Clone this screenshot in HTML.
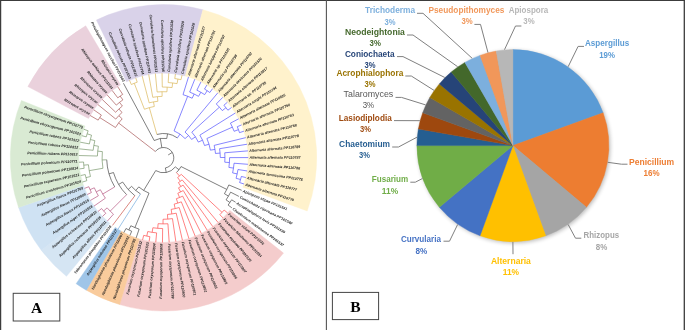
<!DOCTYPE html>
<html><head><meta charset="utf-8"><title>Figure</title>
<style>
html,body{margin:0;padding:0;background:#fff;}
body{width:685px;height:330px;overflow:hidden;font-family:"Liberation Sans",sans-serif;}
svg{display:block;}
</style></head><body>
<svg width="685" height="330" viewBox="0 0 685 330">
<rect width="685" height="330" fill="#fff"/>
<g id="sectors">
<path d="M27.86 86.59A153.2 153.2 0 0 1 85.73 25.81L120.5 84.82A84.7 84.7 0 0 0 88.51 118.43Z" fill="#ead1dc" stroke="#ead1dc" stroke-width="0.45"/>
<path d="M96.43 20.06A153.2 153.2 0 0 1 202.93 9.76L185.3 75.95A84.7 84.7 0 0 0 126.42 81.65Z" fill="#d9d2e9" stroke="#d9d2e9" stroke-width="0.45"/>
<path d="M202.93 9.76A153.2 153.2 0 0 1 307.19 210.94L242.94 187.18A84.7 84.7 0 0 0 185.3 75.95Z" fill="#fff2cc" stroke="#fff2cc" stroke-width="0.45"/>
<path d="M283.46 253.09A153.2 153.2 0 0 1 119.75 304.62L139.31 238.97A84.7 84.7 0 0 0 229.82 210.49Z" fill="#f4cccc" stroke="#f4cccc" stroke-width="0.45"/>
<path d="M119.75 304.62A153.2 153.2 0 0 1 86.39 290.18L120.87 230.99A84.7 84.7 0 0 0 139.31 238.97Z" fill="#f9cb9c" stroke="#f9cb9c" stroke-width="0.45"/>
<path d="M86.39 290.18A153.2 153.2 0 0 1 76.15 283.66L115.21 227.38A84.7 84.7 0 0 0 120.87 230.99Z" fill="#9fc5e8" stroke="#9fc5e8" stroke-width="0.45"/>
<path d="M66.46 276.35A153.2 153.2 0 0 1 41.26 250.15L95.92 208.86A84.7 84.7 0 0 0 109.85 223.34Z" fill="#d5e5f3" stroke="#d5e5f3" stroke-width="0.45"/>
<path d="M41.26 250.15A153.2 153.2 0 0 1 18.56 207.43L83.37 185.24A84.7 84.7 0 0 0 95.92 208.86Z" fill="#cfe2f3" stroke="#cfe2f3" stroke-width="0.45"/>
<path d="M18.56 207.43A153.2 153.2 0 0 1 21.43 100.47L84.95 126.1A84.7 84.7 0 0 0 83.37 185.24Z" fill="#d9ead3" stroke="#d9ead3" stroke-width="0.45"/>
</g>
<g id="branches" fill="none" stroke-width="0.65">
<path stroke="#3a3a3a" d="M155.36 151.49A10.3 10.3 0 1 1 165.38 167.93M160.32 138.46L161.83 147.64M154.23 140.53A19.6 19.6 0 0 1 166.75 138.47M123.43 83.18L154.23 140.53M167.53 133.89L166.75 138.47M156.91 134.46A24.25 24.25 0 0 1 177.37 137.91M166.24 172.5L165.38 167.93M175.34 166.92A14.95 14.95 0 0 1 155.73 170.57M179.03 169.76L175.34 166.92M181.03 166.56A19.6 19.6 0 0 1 176.44 172.52M226.79 189.41L181.03 166.56M228.83 184.95A70.75 70.75 0 0 1 224.45 193.72M241.71 190.3L228.83 184.95M228.46 196.09L224.45 193.72M230.62 192.16A75.4 75.4 0 0 1 226.07 199.88M238.89 196.4L230.62 192.16M229.93 202.47L226.07 199.88M231.64 199.81A80.05 80.05 0 0 1 228.1 205.07M235.6 202.25L231.64 199.81M231.86 207.82L228.1 205.07M143.66 190.44L155.73 170.57M149.02 193.15A38.2 38.2 0 0 1 138.78 186.92M134.92 227.58L149.02 193.15M139.12 229.15A75.4 75.4 0 0 1 130.83 225.75M136.11 237.95L139.12 229.15M128.81 229.94L130.83 225.75M131.7 231.26A80.05 80.05 0 0 1 125.98 228.51M129.85 235.53L131.7 231.26M123.8 232.62L125.98 228.51M135.77 190.47L138.78 186.92M140.48 193.94A42.85 42.85 0 0 1 131.58 186.38M128.11 189.49L131.58 186.38M134.89 195.72A47.5 47.5 0 0 1 122.66 182.06M118.67 184.44L122.66 182.06M126.64 194.69A52.15 52.15 0 0 1 113.48 172.54M109.02 173.85L113.48 172.54M114.72 186.91A56.8 56.8 0 0 1 106.73 159.79M172.29 152.44L168.2 154.94"/>
<path stroke="#a04a4a" d="M118.61 123L155.36 151.49M115.46 127.5A56.8 56.8 0 0 1 122.17 118.84M99.73 117.57L115.46 127.5M98.18 120.13A75.4 75.4 0 0 1 101.37 115.08M90.13 115.49L98.18 120.13M93.71 109.81L101.37 115.08M118.79 115.65L122.17 118.84M115.78 119.08A61.45 61.45 0 0 1 122.04 112.44M97.73 104.43L115.78 119.08M118.9 109.01L122.04 112.44M115.63 112.22A66.1 66.1 0 0 1 122.39 106.04M102.16 99.39L115.63 112.22M119.5 102.4L122.39 106.04M116.29 105.11A70.75 70.75 0 0 1 122.87 99.88M106.98 94.72L116.29 105.11M120.2 96.07L122.87 99.88M117.79 97.84A75.4 75.4 0 0 1 122.68 94.4M112.15 90.44L117.79 97.84M117.65 86.59L122.68 94.4"/>
<path stroke="#d8b24e" d="M149.32 107.62L156.91 134.46M144.45 109.25A52.15 52.15 0 0 1 154.32 106.46M134.26 83.28L144.45 109.25M131.33 84.5A80.05 80.05 0 0 1 137.24 82.18M129.46 80.24L131.33 84.5M135.71 77.79L137.24 82.18M153.5 101.89L154.32 106.46M149.17 102.84A56.8 56.8 0 0 1 157.89 101.28M142.14 75.84L149.17 102.84M157.43 96.65L157.89 101.28M152.76 97.3A61.45 61.45 0 0 1 162.14 96.37M148.69 74.4L152.76 97.3M162.04 91.72L162.14 96.37M157.14 92.01A66.1 66.1 0 0 1 166.95 91.79M155.35 73.49L157.14 92.01M167.19 87.15L166.95 91.79M162.29 87.06A70.75 70.75 0 0 1 172.08 87.57M162.05 73.11L162.29 87.06M172.64 82.96L172.08 87.57M168.18 82.55A75.4 75.4 0 0 1 177.07 83.63M168.76 73.26L168.18 82.55M177.91 79.06L177.07 83.63M174.78 78.55A80.05 80.05 0 0 1 181.02 79.69M175.44 73.95L174.78 78.55M182.04 75.15L181.02 79.69"/>
<path stroke="#4646ff" d="M180.03 134.09L177.37 137.91M174.07 130.9A28.9 28.9 0 0 1 185.09 138.59M187.66 96.28L174.07 130.9M183.03 94.65A66.1 66.1 0 0 1 192.17 98.24M188.53 76.88L183.03 94.65M194.18 94.05L192.17 98.24M189.69 92.08A70.75 70.75 0 0 1 198.53 96.33M194.85 79.12L189.69 92.08M200.83 92.29L198.53 96.33M196.87 90.19A75.4 75.4 0 0 1 204.66 94.62M200.99 81.85L196.87 90.19M207.19 90.73L204.66 94.62M204.5 89.05A80.05 80.05 0 0 1 209.82 92.51M206.88 85.05L204.5 89.05M212.51 88.72L209.82 92.51M188.56 135.5L185.09 138.59M185.02 132.06A33.55 33.55 0 0 1 191.57 139.42M217.83 92.82L185.02 132.06M195.46 136.87L191.57 139.42M191.82 132.16A38.2 38.2 0 0 1 198.32 142.09M219.4 107.19L191.82 132.16M216.29 103.96A75.4 75.4 0 0 1 222.3 110.61M222.8 97.32L216.29 103.96M225.93 107.69L222.3 110.61M223.9 105.26A80.05 80.05 0 0 1 227.87 110.21M227.4 102.21L223.9 105.26M231.61 107.44L227.87 110.21M202.56 140.18L198.32 142.09M199.86 135.13A42.85 42.85 0 0 1 204.56 145.54M235.38 112.99L199.86 135.13M209.01 144.21L204.56 145.54M206.9 138.49A47.5 47.5 0 0 1 210.38 150.15M232.39 127.15L206.9 138.49M230.44 123.11A75.4 75.4 0 0 1 234.09 131.29M238.7 118.83L230.44 123.11M238.44 129.66L234.09 131.29M237.27 126.71A80.05 80.05 0 0 1 239.5 132.65M241.55 124.91L237.27 126.71M243.91 131.19L239.5 132.65M214.97 149.41L210.38 150.15M214.15 145.39A52.15 52.15 0 0 1 215.47 153.48M245.77 137.64L214.15 145.39M220.1 153.09L215.47 153.48M219.57 148.69A56.8 56.8 0 0 1 220.3 157.52M247.1 144.22L219.57 148.69M224.95 157.49L220.3 157.52M224.74 152.78A61.45 61.45 0 0 1 224.79 162.21M247.92 150.88L224.74 152.78M229.43 162.54L224.79 162.21M229.6 157.64A66.1 66.1 0 0 1 228.9 167.43M248.2 157.59L229.6 157.64M233.5 168.1L228.9 167.43M234.04 163.23A70.75 70.75 0 0 1 232.61 172.93M247.95 164.3L234.04 163.23M237.16 173.92L232.61 172.93M237.98 169.52A75.4 75.4 0 0 1 236.07 178.27M247.17 170.96L237.98 169.52M240.54 179.53L236.07 178.27M241.34 176.46A80.05 80.05 0 0 1 239.62 182.57M245.87 177.55L241.34 176.46M244.04 184.01L239.62 182.57"/>
<path stroke="#ff4040" d="M179.51 176.01L176.44 172.52M181.23 174.34A24.25 24.25 0 0 1 177.63 177.51M222.04 212.4L181.23 174.34M224.16 210.04A80.05 80.05 0 0 1 219.83 214.68M227.68 213.07L224.16 210.04M223.1 217.98L219.83 214.68M180.34 181.29L177.63 177.51M182.15 179.88A28.9 28.9 0 0 1 178.43 182.55M218.15 222.51L182.15 179.88M180.83 186.53L178.43 182.55M183.05 185.07A33.55 33.55 0 0 1 178.5 187.81M212.85 226.64L183.05 185.07M180.58 191.97L178.5 187.81M183.23 190.51A38.2 38.2 0 0 1 177.82 193.21M207.25 230.33L183.23 190.51M179.57 197.52L177.82 193.21M182.66 196.13A42.85 42.85 0 0 1 176.38 198.67M201.37 233.56L182.66 196.13M177.77 203.1L176.38 198.67M181.3 201.84A47.5 47.5 0 0 1 174.16 204.09M195.25 236.33L181.3 201.84M175.2 208.62L174.16 204.09M179.16 207.54A52.15 52.15 0 0 1 171.17 209.38M188.93 238.59L179.16 207.54M171.85 213.98L171.17 209.38M176.21 213.16A56.8 56.8 0 0 1 167.45 214.46M182.45 240.35L176.21 213.16M167.77 219.1L167.45 214.46M172.46 218.59A61.45 61.45 0 0 1 163.06 219.25M175.85 241.59L172.46 218.59M163.02 223.9L163.06 219.25M167.93 223.75A66.1 66.1 0 0 1 158.12 223.68M169.18 242.31L167.93 223.75M157.74 228.31L158.12 223.68M162.64 228.54A70.75 70.75 0 0 1 152.86 227.75M162.47 242.49L162.64 228.54M152.17 232.34L152.86 227.75M156.62 232.89A75.4 75.4 0 0 1 147.76 231.54M155.77 242.15L156.62 232.89M146.79 236.09L147.76 231.54M149.9 236.69A80.05 80.05 0 0 1 143.7 235.36M149.11 241.27L149.9 236.69M142.55 239.87L143.7 235.36"/>
<path stroke="#6aa5dc" d="M118 229.24L140.48 193.94"/>
<path stroke="#c8473c" d="M112.49 225.42L134.89 195.72"/>
<path stroke="#b04a78" d="M110.2 211.13L126.64 194.69M113.46 214.21A75.4 75.4 0 0 1 107.13 207.87M107.29 221.16L113.46 214.21M103.65 210.96L107.13 207.87M105.8 213.29A80.05 80.05 0 0 1 101.59 208.55M102.45 216.51L105.8 213.29M97.99 211.49L101.59 208.55M102.74 194.05L114.72 186.91M105.4 198.18A70.75 70.75 0 0 1 100.38 189.76M93.95 206.14L105.4 198.18M96.23 191.86L100.38 189.76M98.37 195.79A75.4 75.4 0 0 1 94.32 187.8M90.34 200.48L98.37 195.79M90.06 189.65L94.32 187.8M91.38 192.53A80.05 80.05 0 0 1 88.85 186.71M87.19 194.55L91.38 192.53M84.52 188.39L88.85 186.71"/>
<path stroke="#6f8f62" d="M102.09 159.96L106.73 159.79M102.95 168.28A61.45 61.45 0 0 1 102.36 151.6M89.2 170.66L102.95 168.28M90.46 176.5A75.4 75.4 0 0 1 88.42 164.73M85.95 177.65L90.46 176.5M86.8 180.71A80.05 80.05 0 0 1 85.23 174.56M82.34 182.04L86.8 180.71M80.68 175.54L85.23 174.56M83.79 165.16L88.42 164.73M84.14 168.31A80.05 80.05 0 0 1 83.56 162M79.53 168.92L84.14 168.31M78.92 162.24L83.56 162M97.74 151.13L102.36 151.6M97.42 156.03A66.1 66.1 0 0 1 98.41 146.26M78.83 155.53L97.42 156.03M93.84 145.45L98.41 146.26M93.15 150.31A70.75 70.75 0 0 1 94.86 140.65M79.28 148.83L93.15 150.31M90.35 139.52L94.86 140.65M89.39 143.9A75.4 75.4 0 0 1 91.56 135.21M80.25 142.19L89.39 143.9M87.13 133.82L91.56 135.21M86.24 136.86A80.05 80.05 0 0 1 88.14 130.81M81.75 135.65L86.24 136.86M83.76 129.24L88.14 130.81"/>
</g>
<g id="tlabels" font-family="'Liberation Sans', sans-serif" font-size="36.6" font-weight="bold" font-style="italic" fill="#1c1c1c" opacity="0.99">
<text transform="translate(89 114.84) rotate(29.97) scale(.1)" text-anchor="end" dy="1">Rhizopus oryzae</text>
<text transform="translate(92.64 109.07) rotate(34.51) scale(.1)" text-anchor="end" dy="1">Rhizopus oryzae</text>
<text transform="translate(96.72 103.61) rotate(39.06) scale(.1)" text-anchor="end" dy="1">Rhizopus oryzae</text>
<text transform="translate(101.22 98.5) rotate(43.6) scale(.1)" text-anchor="end" dy="1">Rhizopus oryzae</text>
<text transform="translate(106.11 93.75) rotate(48.14) scale(.1)" text-anchor="end" dy="1">Rhizopus oryzae</text>
<text transform="translate(111.36 89.41) rotate(52.68) scale(.1)" text-anchor="end" dy="1">Rhizopus arrhizus PP101534</text>
<text transform="translate(116.94 85.49) rotate(57.22) scale(.1)" text-anchor="end" dy="1">Rhizopus oryzae</text>
<text transform="translate(122.81 82.03) rotate(61.76) scale(.1)" text-anchor="end" dy="1">Pseudopithomyces sacchari PP101543</text>
<text transform="translate(128.94 79.05) rotate(66.31) scale(.1)" text-anchor="end" dy="1">Curvularia robusta PP101533</text>
<text transform="translate(135.29 76.56) rotate(70.85) scale(.1)" text-anchor="end" dy="1">Curvularia robusta PP110816</text>
<text transform="translate(141.81 74.58) rotate(75.39) scale(.1)" text-anchor="end" dy="1">Curvularia spicifera PP110794</text>
<text transform="translate(148.47 73.12) rotate(79.93) scale(.1)" text-anchor="end" dy="1">Curvularia spicifera PP110793</text>
<text transform="translate(155.22 72.2) rotate(84.47) scale(.1)" text-anchor="end" dy="1">Curvularia hawaiiensis PP101531</text>
<text transform="translate(162.02 71.81) rotate(89.02) scale(.1)" text-anchor="end" dy="1">Curvularia spicifera PP110795</text>
<text transform="translate(168.84 71.97) rotate(-86.44) scale(.1)" text-anchor="start" dy="12.5">Curvularia spicifera PP101530</text>
<text transform="translate(175.62 72.66) rotate(-81.9) scale(.1)" text-anchor="start" dy="12.5">Curvularia spicifera PP101529</text>
<text transform="translate(182.32 73.89) rotate(-77.36) scale(.1)" text-anchor="start" dy="12.5">Curvularia spicifera PP101528</text>
<text transform="translate(188.91 75.64) rotate(-72.81) scale(.1)" text-anchor="start" dy="12.5">Alternaria alternata PP101527</text>
<text transform="translate(195.34 77.91) rotate(-68.27) scale(.1)" text-anchor="start" dy="12.5">Alternaria alternata PP110791</text>
<text transform="translate(201.56 80.68) rotate(-63.73) scale(.1)" text-anchor="start" dy="12.5">Alternaria longipes PP110797</text>
<text transform="translate(207.55 83.94) rotate(-59.19) scale(.1)" text-anchor="start" dy="12.5">Alternaria sp. PP101525</text>
<text transform="translate(213.26 87.66) rotate(-54.65) scale(.1)" text-anchor="start" dy="12.5">Alternaria sp PP110798</text>
<text transform="translate(218.66 91.82) rotate(-50.11) scale(.1)" text-anchor="start" dy="12.5">Alternaria alternata PP110792</text>
<text transform="translate(223.71 96.39) rotate(-45.56) scale(.1)" text-anchor="start" dy="12.5">Alternaria destruens PP101526</text>
<text transform="translate(228.38 101.36) rotate(-41.02) scale(.1)" text-anchor="start" dy="12.5">Alternaria alternata PP110817</text>
<text transform="translate(232.65 106.67) rotate(-36.48) scale(.1)" text-anchor="start" dy="12.5">Alternaria sp. PP110785</text>
<text transform="translate(236.48 112.31) rotate(-31.94) scale(.1)" text-anchor="start" dy="12.5">Alternaria sorghi PP110794</text>
<text transform="translate(239.86 118.23) rotate(-27.39) scale(.1)" text-anchor="start" dy="12.5">Alternaria alternata PP110816</text>
<text transform="translate(242.75 124.4) rotate(-22.85) scale(.1)" text-anchor="start" dy="12.5">Alternaria alternata PP110790</text>
<text transform="translate(245.15 130.78) rotate(-18.31) scale(.1)" text-anchor="start" dy="12.5">Alternaria alternata PP110783</text>
<text transform="translate(247.03 137.33) rotate(-13.77) scale(.1)" text-anchor="start" dy="12.5">Alternaria alternata PP110788</text>
<text transform="translate(248.39 144.01) rotate(-9.23) scale(.1)" text-anchor="start" dy="12.5">Alternaria alternata PP110778</text>
<text transform="translate(249.21 150.78) rotate(-4.69) scale(.1)" text-anchor="start" dy="12.5">Alternaria alternata PP110789</text>
<text transform="translate(249.5 157.59) rotate(-0.14) scale(.1)" text-anchor="start" dy="12.5">Alternaria alternata PP110787</text>
<text transform="translate(249.25 164.4) rotate(4.4) scale(.1)" text-anchor="start" dy="12.5">Alternaria alternata PP110786</text>
<text transform="translate(248.46 171.17) rotate(8.94) scale(.1)" text-anchor="start" dy="12.5">Alternaria tenuissima PP110775</text>
<text transform="translate(247.13 177.85) rotate(13.48) scale(.1)" text-anchor="start" dy="12.5">Alternaria alternata PP110777</text>
<text transform="translate(245.28 184.41) rotate(18.02) scale(.1)" text-anchor="start" dy="12.5">Alternaria alternata PP110779</text>
<text transform="translate(242.92 190.8) rotate(22.57) scale(.1)" text-anchor="start" dy="12.5">Apiospora stipae PP101541</text>
<text transform="translate(240.05 196.99) rotate(27.11) scale(.1)" text-anchor="start" dy="12.5">Coniochaeta cipronana PP101540</text>
<text transform="translate(236.71 202.93) rotate(31.65) scale(.1)" text-anchor="start" dy="12.5">Acrophialophora levis PP101539</text>
<text transform="translate(232.9 208.58) rotate(36.19) scale(.1)" text-anchor="start" dy="12.5">Chaetomium madrasense PP101537</text>
<text transform="translate(228.67 213.92) rotate(40.74) scale(.1)" text-anchor="start" dy="12.5">Fusarium solani PP101536</text>
<text transform="translate(224.02 218.9) rotate(45.28) scale(.1)" text-anchor="start" dy="12.5">Fusarium falciforme PP101534</text>
<text transform="translate(218.99 223.5) rotate(49.82) scale(.1)" text-anchor="start" dy="12.5">Fusarium equiseti PP101535</text>
<text transform="translate(213.61 227.69) rotate(54.36) scale(.1)" text-anchor="start" dy="12.5">Fusarium oxysporum PP110807</text>
<text transform="translate(207.92 231.44) rotate(58.9) scale(.1)" text-anchor="start" dy="12.5">Fusarium oxysporum PP110806</text>
<text transform="translate(201.95 234.73) rotate(63.44) scale(.1)" text-anchor="start" dy="12.5">Fusarium oxysporum PP110805</text>
<text transform="translate(195.73 237.53) rotate(67.99) scale(.1)" text-anchor="start" dy="12.5">Fusarium oxysporum PP110803</text>
<text transform="translate(189.32 239.83) rotate(72.53) scale(.1)" text-anchor="start" dy="12.5">Fusarium oxysporum PP110802</text>
<text transform="translate(182.74 241.62) rotate(77.07) scale(.1)" text-anchor="start" dy="12.5">Fusarium oxysporum PP110801</text>
<text transform="translate(176.04 242.88) rotate(81.61) scale(.1)" text-anchor="start" dy="12.5">Fusarium oxysporum PP110800</text>
<text transform="translate(169.27 243.61) rotate(86.15) scale(.1)" text-anchor="start" dy="12.5">Fusarium oxysporum PP110799</text>
<text transform="translate(162.45 243.79) rotate(-89.3) scale(.1)" text-anchor="end" dy="1">Fusarium oxysporum PP110808</text>
<text transform="translate(155.65 243.44) rotate(-84.76) scale(.1)" text-anchor="end" dy="1">Fusarium oxysporum PP110804</text>
<text transform="translate(148.89 242.55) rotate(-80.22) scale(.1)" text-anchor="end" dy="1">Fusarium oxysporum PP101533</text>
<text transform="translate(142.22 241.13) rotate(-75.68) scale(.1)" text-anchor="end" dy="1">Fusarium oxysporum PP101532</text>
<text transform="translate(135.69 239.18) rotate(-71.13) scale(.1)" text-anchor="end" dy="1">Neodeightonia phoenicum PP110785</text>
<text transform="translate(129.34 236.72) rotate(-66.59) scale(.1)" text-anchor="end" dy="1">Neodeightonia phoenicum PP101542</text>
<text transform="translate(123.19 233.77) rotate(-62.05) scale(.1)" text-anchor="end" dy="1">Neodeightonia phoenicum PP110867</text>
<text transform="translate(117.3 230.34) rotate(-57.51) scale(.1)" text-anchor="end" dy="1">Aspergillus nidulans PP101517</text>
<text transform="translate(111.7 226.45) rotate(-52.97) scale(.1)" text-anchor="end" dy="1">Talaromyces pinophilus PP101538</text>
<text transform="translate(106.43 222.14) rotate(-48.42) scale(.1)" text-anchor="end" dy="1">Aspergillus affinis PP110811</text>
<text transform="translate(101.51 217.41) rotate(-43.88) scale(.1)" text-anchor="end" dy="1">Aspergillus ochraceus PP101516</text>
<text transform="translate(96.99 212.32) rotate(-39.34) scale(.1)" text-anchor="end" dy="1">Aspergillus ochraceus PP110810</text>
<text transform="translate(92.88 206.88) rotate(-34.8) scale(.1)" text-anchor="end" dy="1">Aspergillus niger PP101518</text>
<text transform="translate(89.22 201.13) rotate(-30.26) scale(.1)" text-anchor="end" dy="1">Aspergillus flavus PP101519</text>
<text transform="translate(86.02 195.11) rotate(-25.72) scale(.1)" text-anchor="end" dy="1">Aspergillus flavus PP110809</text>
<text transform="translate(83.31 188.86) rotate(-21.17) scale(.1)" text-anchor="end" dy="1">Aspergillus flavus PP110769</text>
<text transform="translate(81.1 182.41) rotate(-16.63) scale(.1)" text-anchor="end" dy="1">Penicillium crustosum PP101524</text>
<text transform="translate(79.41 175.81) rotate(-12.09) scale(.1)" text-anchor="end" dy="1">Penicillium expansum PP101521</text>
<text transform="translate(78.24 169.1) rotate(-7.55) scale(.1)" text-anchor="end" dy="1">Penicillium polonicum PP110814</text>
<text transform="translate(77.62 162.31) rotate(-3.01) scale(.1)" text-anchor="end" dy="1">Penicillium polonicum PP110771</text>
<text transform="translate(77.53 155.49) rotate(1.54) scale(.1)" text-anchor="end" dy="1">Penicillium rubens PP110813</text>
<text transform="translate(77.98 148.69) rotate(6.08) scale(.1)" text-anchor="end" dy="1">Penicillium rubens PP110812</text>
<text transform="translate(78.97 141.95) rotate(10.62) scale(.1)" text-anchor="end" dy="1">Penicillium rubens PP101522</text>
<text transform="translate(80.49 135.31) rotate(15.16) scale(.1)" text-anchor="end" dy="1">Penicillium chrysogenum PP101523</text>
<text transform="translate(82.54 128.8) rotate(19.7) scale(.1)" text-anchor="end" dy="1">Penicillium chrysogenum PP110770</text>
</g>
<defs><filter id="psh" x="-10%" y="-10%" width="120%" height="120%"><feGaussianBlur stdDeviation="2.2"/></filter></defs>
<circle cx="514.1" cy="146.8" r="96" fill="#000" opacity="0.28" filter="url(#psh)"/>
<g id="pie">
<path d="M512.9 145.6L512.9 49.6A96 96 0 0 1 603.11 112.77Z" fill="#5B9BD5" stroke="#5B9BD5" stroke-width="0.4"/>
<path d="M512.9 145.6L603.11 112.77A96 96 0 0 1 586.44 207.31Z" fill="#ED7D31" stroke="#ED7D31" stroke-width="0.4"/>
<path d="M512.9 145.6L586.44 207.31A96 96 0 0 1 545.73 235.81Z" fill="#A5A5A5" stroke="#A5A5A5" stroke-width="0.4"/>
<path d="M512.9 145.6L545.73 235.81A96 96 0 0 1 480.07 235.81Z" fill="#FFC000" stroke="#FFC000" stroke-width="0.4"/>
<path d="M512.9 145.6L480.07 235.81A96 96 0 0 1 439.36 207.31Z" fill="#4472C4" stroke="#4472C4" stroke-width="0.4"/>
<path d="M512.9 145.6L439.36 207.31A96 96 0 0 1 416.9 145.6Z" fill="#70AD47" stroke="#70AD47" stroke-width="0.4"/>
<path d="M512.9 145.6L416.9 145.6A96 96 0 0 1 418.36 128.93Z" fill="#255E91" stroke="#255E91" stroke-width="0.4"/>
<path d="M512.9 145.6L418.36 128.93A96 96 0 0 1 422.69 112.77Z" fill="#9E480E" stroke="#9E480E" stroke-width="0.4"/>
<path d="M512.9 145.6L422.69 112.77A96 96 0 0 1 429.76 97.6Z" fill="#636363" stroke="#636363" stroke-width="0.4"/>
<path d="M512.9 145.6L429.76 97.6A96 96 0 0 1 439.36 83.89Z" fill="#997300" stroke="#997300" stroke-width="0.4"/>
<path d="M512.9 145.6L439.36 83.89A96 96 0 0 1 451.19 72.06Z" fill="#264478" stroke="#264478" stroke-width="0.4"/>
<path d="M512.9 145.6L451.19 72.06A96 96 0 0 1 464.9 62.46Z" fill="#43682B" stroke="#43682B" stroke-width="0.4"/>
<path d="M512.9 145.6L464.9 62.46A96 96 0 0 1 480.07 55.39Z" fill="#7CAFDD" stroke="#7CAFDD" stroke-width="0.4"/>
<path d="M512.9 145.6L480.07 55.39A96 96 0 0 1 496.23 51.06Z" fill="#F1975A" stroke="#F1975A" stroke-width="0.4"/>
<path d="M512.9 145.6L496.23 51.06A96 96 0 0 1 512.9 49.6Z" fill="#B7B7B7" stroke="#B7B7B7" stroke-width="0.4"/>
</g>
<path d="M568.14 66.72L578.1 46.4L584 46.4M607.74 162.32L621.4 164.2L627.5 164.2M568.14 224.48L575.5 238.2L581.3 238.2M512.9 241.9L513 254.2M457.66 224.48L449.5 241.2L443.5 241.2M422.41 178.54L415.3 182.2L410.3 182.2M416.97 137.21L398.5 147L392.2 147M419.88 120.68L394 120.6M425.62 104.9L401.5 97.4L395.5 97.4M434.02 90.36L411.3 76L405.3 76M444.81 77.51L403 56.6L397 56.6M457.66 66.72L413 35L407 35M472.2 58.32L423 13.3L417 13.3M487.98 52.58L480.5 24.4L474.4 24.4M504.51 49.67L515.5 26L521.4 26" fill="none" stroke="#808080" stroke-width="1" stroke-linejoin="round"/>
<g id="plabels" font-family="'Liberation Sans', sans-serif" font-size="8.6" opacity="0.99">
<text x="365.1" y="13.1" fill="#7CAFDD" font-weight="bold" textLength="50" lengthAdjust="spacingAndGlyphs">Trichoderma</text>
<text x="384.5" y="24.5" fill="#7CAFDD" font-weight="bold" textLength="11" lengthAdjust="spacingAndGlyphs">3%</text>
<text x="344.9" y="34.9" fill="#43682B" font-weight="bold" textLength="60" lengthAdjust="spacingAndGlyphs">Neodeightonia</text>
<text x="369.6" y="45.8" fill="#43682B" font-weight="bold" textLength="11.3" lengthAdjust="spacingAndGlyphs">3%</text>
<text x="344.9" y="56.6" fill="#264478" font-weight="bold" textLength="49.6" lengthAdjust="spacingAndGlyphs">Coniochaeta</text>
<text x="364.5" y="67.8" fill="#264478" font-weight="bold" textLength="11" lengthAdjust="spacingAndGlyphs">3%</text>
<text x="336.4" y="76" fill="#997300" font-weight="bold" textLength="66.9" lengthAdjust="spacingAndGlyphs">Acrophialophora</text>
<text x="364.5" y="87.3" fill="#997300" font-weight="bold" textLength="11" lengthAdjust="spacingAndGlyphs">3%</text>
<text x="343.6" y="97.3" fill="#565656" font-weight="normal" textLength="49.7" lengthAdjust="spacingAndGlyphs">Talaromyces</text>
<text x="362.7" y="107.8" fill="#565656" font-weight="normal" textLength="11.5" lengthAdjust="spacingAndGlyphs">3%</text>
<text x="338.7" y="120.5" fill="#9E480E" font-weight="bold" textLength="53.1" lengthAdjust="spacingAndGlyphs">Lasiodiplodia</text>
<text x="360" y="132.2" fill="#9E480E" font-weight="bold" textLength="10.9" lengthAdjust="spacingAndGlyphs">3%</text>
<text x="339.1" y="146.7" fill="#255E91" font-weight="bold" textLength="50.9" lengthAdjust="spacingAndGlyphs">Chaetomium</text>
<text x="359.1" y="158.2" fill="#255E91" font-weight="bold" textLength="10.9" lengthAdjust="spacingAndGlyphs">3%</text>
<text x="371.8" y="182.4" fill="#70AD47" font-weight="bold" textLength="36.4" lengthAdjust="spacingAndGlyphs">Fusarium</text>
<text x="381.8" y="194.2" fill="#70AD47" font-weight="bold" textLength="16.4" lengthAdjust="spacingAndGlyphs">11%</text>
<text x="400.9" y="241.8" fill="#4472C4" font-weight="bold" textLength="40" lengthAdjust="spacingAndGlyphs">Curvularia</text>
<text x="415.5" y="253.6" fill="#4472C4" font-weight="bold" textLength="11.8" lengthAdjust="spacingAndGlyphs">8%</text>
<text x="490.9" y="263.6" fill="#FFC000" font-weight="bold" textLength="40" lengthAdjust="spacingAndGlyphs">Alternaria</text>
<text x="502.7" y="274.9" fill="#FFC000" font-weight="bold" textLength="16.4" lengthAdjust="spacingAndGlyphs">11%</text>
<text x="583.6" y="238.2" fill="#A5A5A5" font-weight="bold" textLength="35.5" lengthAdjust="spacingAndGlyphs">Rhizopus</text>
<text x="595.8" y="249.5" fill="#A5A5A5" font-weight="bold" textLength="11.5" lengthAdjust="spacingAndGlyphs">8%</text>
<text x="629" y="164.5" fill="#ED7D31" font-weight="bold" textLength="45.1" lengthAdjust="spacingAndGlyphs">Penicillium</text>
<text x="643.5" y="175.5" fill="#ED7D31" font-weight="bold" textLength="16" lengthAdjust="spacingAndGlyphs">16%</text>
<text x="585" y="46.4" fill="#5B9BD5" font-weight="bold" textLength="44.2" lengthAdjust="spacingAndGlyphs">Aspergillus</text>
<text x="599.2" y="57.6" fill="#5B9BD5" font-weight="bold" textLength="15.8" lengthAdjust="spacingAndGlyphs">19%</text>
<text x="428.5" y="12.7" fill="#F1975A" font-weight="bold" textLength="75.9" lengthAdjust="spacingAndGlyphs">Pseudopithomyces</text>
<text x="461.4" y="24.4" fill="#F1975A" font-weight="bold" textLength="11.2" lengthAdjust="spacingAndGlyphs">3%</text>
<text x="508.7" y="12.7" fill="#B7B7B7" font-weight="bold" textLength="39.6" lengthAdjust="spacingAndGlyphs">Apiospora</text>
<text x="523.3" y="24.4" fill="#B7B7B7" font-weight="bold" textLength="11.3" lengthAdjust="spacingAndGlyphs">3%</text>
</g>
<g id="frame" fill="none" stroke="#3c3c3c">
<path d="M0 0.5H685" stroke-width="1.2"/>
<path d="M0.6 0V330" stroke-width="1.25"/>
<path d="M684.3 0V330" stroke-width="1.3"/>
<path d="M326.4 0V330" stroke-width="1.1" stroke="#555"/>
<rect x="13.2" y="293.3" width="46.6" height="27.7" fill="#fff" stroke="#444" stroke-width="1"/>
<rect x="332.4" y="292.4" width="46.2" height="27.2" fill="#fff" stroke="#444" stroke-width="1"/>
</g>
<g font-family="'Liberation Serif', serif" font-weight="bold" font-size="15.5" fill="#000" text-anchor="middle" opacity="0.99">
<text x="36.6" y="312.6">A</text>
<text x="355.5" y="311.7">B</text>
</g>
</svg>
</body></html>
